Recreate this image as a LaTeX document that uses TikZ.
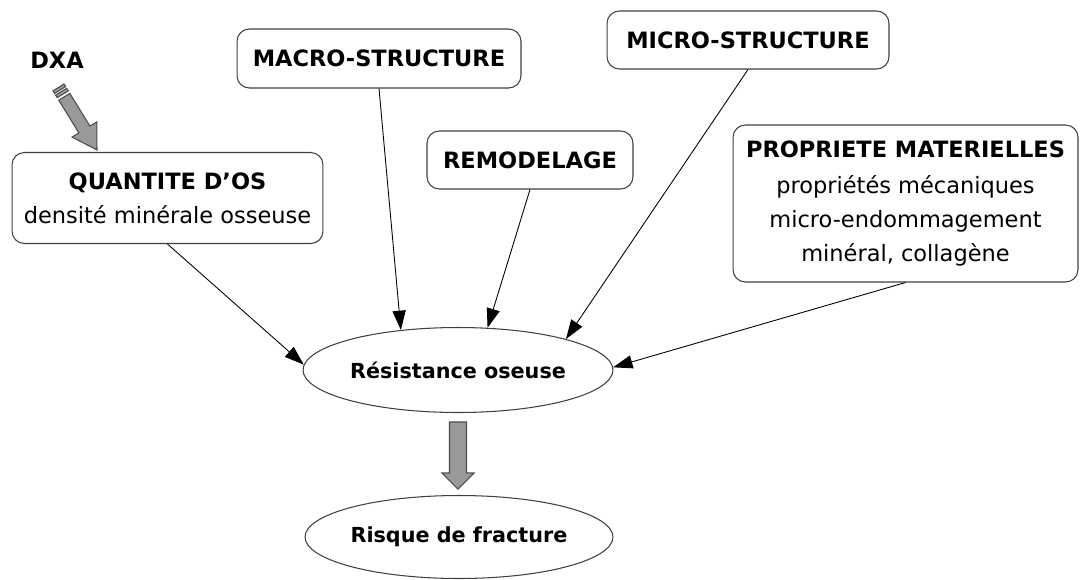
\documentclass[tikz,border=0pt]{standalone}
\usepackage{fontspec}
\setmainfont{DejaVu Sans}
\usetikzlibrary{arrows.meta,shapes.geometric}

\tikzset{
  facteur/.style={draw=black!75, line width=0.6pt, rounded corners=7pt, inner sep=0pt, align=center, font=\fontsize{12.8}{19.5}\selectfont},
  titre/.style={font=\bfseries\fontsize{12.8}{15}\selectfont},
  bulle/.style={draw=black!75, line width=0.6pt, ellipse, inner sep=0pt, font=\bfseries\fontsize{11.8}{14}\selectfont},
  fleche/.style={draw=black, line width=0.5pt, -{Triangle[length=11pt,width=7.5pt]}},
  grosse/.style={fill=black!40, draw=black!70, line width=0.6pt},
}

\begin{document}
\begin{tikzpicture}[x=0.02cm, y=-0.02cm]
    \useasboundingbox (0,0) rectangle (1082,579);

    % Facteurs
    \node[facteur, minimum width=6.22cm, minimum height=1.82cm] (quantite) at (167.5,198)
        {\textbf{QUANTITE D'OS}\\densité minérale osseuse};
    \node[facteur, titre, minimum width=5.68cm, minimum height=1.18cm] (macro) at (379,58.5) {MACRO-STRUCTURE};
    \node[facteur, titre, minimum width=4.12cm, minimum height=1.16cm] (remodelage) at (530,160) {REMODELAGE};
    \node[facteur, titre, minimum width=5.64cm, minimum height=1.16cm] (micro) at (748,40) {MICRO-STRUCTURE};
    \node[facteur, minimum width=6.9cm, minimum height=3.14cm] (propriete) at (905.5,203.5)
        {\textbf{PROPRIETE MATERIELLES}\\[1pt]propriétés mécaniques\\micro-endommagement\\minéral, collagène};

    % Resistance et risque
    \node[bulle, minimum width=6.2cm, minimum height=1.7cm] (resistance) at (458,370) {Résistance oseuse};
    \node[bulle, minimum width=6.16cm, minimum height=1.66cm] (risque) at (459,537) {Risque de fracture};

    % DXA
    \node[titre] (dxa) at (57,60) {DXA};
    \begin{scope}[shift={(64.3,96.8)}, rotate=-58.4]
        \draw[grosse] (0,-6.5) -- (38.4,-6.5) -- (38.4,-14.5) -- (62.4,0) -- (38.4,14.5) -- (38.4,6.5) -- (0,6.5) -- cycle;
        \draw[grosse] (-6,-6.5) rectangle (-3,6.5);
        \draw[grosse] (-11,-6.5) rectangle (-8,6.5);
    \end{scope}

    % Connecteurs
    \draw[fleche] (quantite.south) -- (resistance.178);
    \draw[fleche] (macro.south) -- (resistance.145);
    \draw[fleche] (remodelage.south) -- (resistance.55);
    \draw[fleche] (micro.south) -- (resistance.16);
    \draw[fleche] (propriete.south) -- (resistance.1);

    % Grosse fleche
    \draw[grosse] (449.5,422) -- (466.5,422) -- (466.5,473) -- (474,473) -- (458,489) -- (442,473) -- (449.5,473) -- cycle;
\end{tikzpicture}
\end{document}
